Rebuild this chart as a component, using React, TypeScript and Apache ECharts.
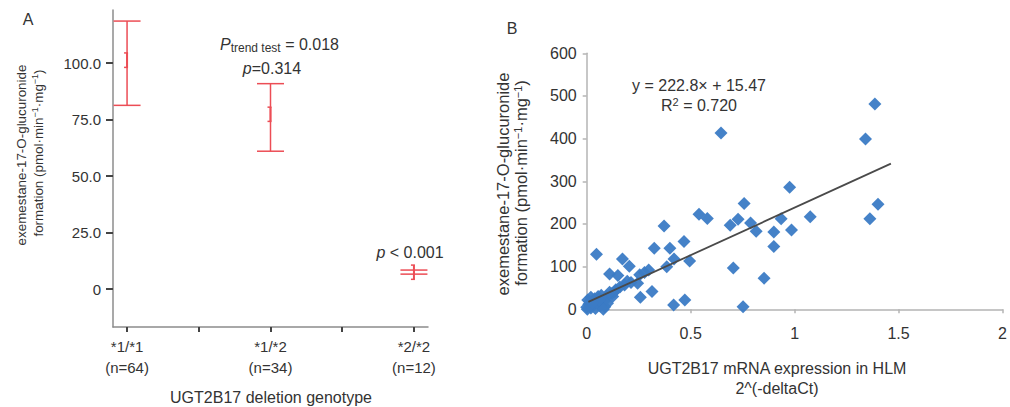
import React, { useEffect, useRef } from 'react';
import * as echarts from 'echarts';

// ---------- Panel A data ----------
const A_CATEGORIES = ['*1/*1', '*1/*2', '*2/*2'];
const A_COUNTS = ['(n=64)', '(n=34)', '(n=12)'];
const A_Y_TICKS = [0, 25, 50, 75, 100];
const A_X_TICKS = [0, 0.5, 1, 1.5, 2];
const A_OUTER_HIGH = [118.6, 90.9, 8.4];
const A_OUTER_LOW = [81.3, 61.0, 6.6];
const A_INNER_HIGH = [104.5, 80.5, 10.6];
const A_INNER_LOW = [98.1, 74.2, 4.3];

// ---------- Panel B data ----------
const B_EXPRESSION = [
  0.646, 1.386, 1.341, 0.976, 0.757, 1.401, 0.540, 0.580, 0.690, 0.728,
  0.788, 0.815, 0.935, 0.900, 0.900, 0.985, 1.075, 1.362, 0.372, 0.468,
  0.400, 0.325, 0.495, 0.420, 0.385, 0.705, 0.853, 0.047, 0.172, 0.205,
  0.110, 0.150, 0.255, 0.278, 0.298, 0.213, 0.245, 0.314, 0.258, 0.418,
  0.472, 0.752, 0.182, 0.160, 0.140, 0.122, 0.095, 0.087, 0.087, 0.100,
  0.005, 0.020, 0.038, 0.055, 0.070, 0.010, 0.030, 0.050, 0.000, 0.020,
  0.042, 0.065, 0.080, 0.003, 0.015, 0.125, 0.135, 0.195, 0.060, 0.028,
  0.110,
];
const B_FORMATION = [
  413, 481, 399, 286, 248, 246, 223, 213, 197, 211,
  202, 183, 212, 181, 147, 186, 217, 212, 195, 159,
  143, 143, 113, 118, 100, 97, 73, 129, 118, 101,
  83, 79, 81, 86, 92, 63, 61, 42, 28, 10,
  22, 6, 57, 52, 46, 37, 30, 20, 6, 14,
  22, 28, 25, 30, 33, 12, 10, 16, 5, 3,
  2, 8, 0, 0, 18, 30, 42, 66, 22, 15,
  40,
];
const B_X_LABELS = ['0', '0.5', '1', '1.5', '2'];
const B_SLOPE = 222.8;
const B_INTERCEPT = 15.47;
const B_FIT_START = 0.008;
const B_FIT_END = 1.463;

const FONT = 'Liberation Sans, Arial, Helvetica, sans-serif';
const TEXT = '#333333';
const RED = '#ec4d55';
const BLUE = '#3b7bc5';

function txt(x: number, y: number, text: string, fontSize: number, extra: any = {}, rich?: any, rotation = 0) {
  return {
    type: 'text',
    x,
    y,
    rotation,
    silent: true,
    style: {
      text,
      fontFamily: FONT,
      fontSize,
      fill: TEXT,
      align: 'center',
      textAlign: 'center',
      verticalAlign: 'middle',
      textVerticalAlign: 'middle',
      rich,
      ...extra,
    },
  };
}

export default function App() {
  const ref = useRef<HTMLDivElement>(null);

  useEffect(() => {
    document.body.style.margin = '0';
    if (!ref.current) return;
    const chart = echarts.init(ref.current, undefined, { renderer: 'svg' });

    const errorData = A_CATEGORIES.map((_, i) => [i, A_OUTER_LOW[i], A_OUTER_HIGH[i], A_INNER_LOW[i], A_INNER_HIGH[i]]);
    const scatterData = B_EXPRESSION.map((x, i) => [x, B_FORMATION[i]]);
    const fitData = [
      [B_FIT_START, B_SLOPE * B_FIT_START + B_INTERCEPT],
      [B_FIT_END, B_SLOPE * B_FIT_END + B_INTERCEPT],
    ];

    const supRich = {
      s: { fontSize: 9, lineHeight: 9, verticalAlign: 'top', fontFamily: FONT, fill: TEXT, color: TEXT },
    };

    const option: any = {
      animation: false,
      grid: [
        { left: 113, top: 10, width: 315, height: 317 },
        { left: 586.7, top: 53.3, width: 420, height: 256 },
      ],
      xAxis: [
        {
          type: 'value',
          gridIndex: 0,
          min: -0.098,
          max: 2.098,
          splitLine: { show: false },
          axisLine: { show: true, onZero: false, lineStyle: { color: '#8c8c8c', width: 1.5 } },
          axisTick: { show: true, customValues: A_X_TICKS, length: 5, lineStyle: { color: '#444', width: 2 } },
          axisLabel: {
            customValues: [0, 1, 2],
            formatter: (v: number) => A_CATEGORIES[Math.round(v)] + '\n' + A_COUNTS[Math.round(v)],
            fontSize: 15,
            fontFamily: FONT,
            color: TEXT,
            lineHeight: 21,
            margin: 9,
          },
        },
        {
          type: 'value',
          gridIndex: 1,
          min: 0,
          max: 2,
          interval: 0.5,
          splitLine: { show: false },
          axisLine: { show: true, onZero: false, lineStyle: { color: '#b4b4b4', width: 1.5 } },
          axisTick: { show: true, length: 4, lineStyle: { color: '#b4b4b4', width: 1.5 } },
          axisLabel: {
            formatter: (v: number) => B_X_LABELS[Math.round(v / 0.5)],
            fontSize: 16,
            fontFamily: FONT,
            color: TEXT,
            margin: 16,
          },
        },
      ],
      yAxis: [
        {
          type: 'value',
          gridIndex: 0,
          min: -16.8,
          max: 123.5,
          splitLine: { show: false },
          axisLine: { show: true, onZero: false, lineStyle: { color: '#8c8c8c', width: 1.5 } },
          axisTick: { show: true, customValues: A_Y_TICKS, length: 7, lineStyle: { color: '#444', width: 2 } },
          axisLabel: {
            customValues: A_Y_TICKS,
            formatter: (v: number) => (v === 0 ? '0' : v.toFixed(1)),
            fontSize: 15,
            fontFamily: FONT,
            color: TEXT,
            margin: 12,
          },
        },
        {
          type: 'value',
          gridIndex: 1,
          min: 0,
          max: 600,
          interval: 100,
          splitLine: { show: false },
          axisLine: { show: true, onZero: false, lineStyle: { color: '#b4b4b4', width: 1.5 } },
          axisTick: { show: true, length: 4, lineStyle: { color: '#b4b4b4', width: 1.5 } },
          axisLabel: { fontSize: 16, fontFamily: FONT, color: TEXT, margin: 10 },
        },
      ],
      series: [
        {
          type: 'custom',
          xAxisIndex: 0,
          yAxisIndex: 0,
          data: errorData,
          renderItem: (_params: any, api: any) => {
            const x = api.value(0);
            const oL = api.coord([x, api.value(1)]);
            const oH = api.coord([x, api.value(2)]);
            const iL = api.coord([x, api.value(3)]);
            const iH = api.coord([x, api.value(4)]);
            const cw = 13.5;
            const iw = 3;
            const st = { stroke: RED, lineWidth: 1.5 };
            const st2 = { stroke: RED, lineWidth: 2 };
            return {
              type: 'group',
              children: [
                { type: 'line', shape: { x1: oH[0], y1: oH[1], x2: oL[0], y2: oL[1] }, style: st },
                { type: 'line', shape: { x1: oH[0] - cw, y1: oH[1], x2: oH[0] + cw, y2: oH[1] }, style: st },
                { type: 'line', shape: { x1: oL[0] - cw, y1: oL[1], x2: oL[0] + cw, y2: oL[1] }, style: st },
                { type: 'line', shape: { x1: iH[0], y1: iH[1], x2: iL[0], y2: iL[1] }, style: st2 },
                { type: 'line', shape: { x1: iH[0] - iw, y1: iH[1], x2: iH[0] + 1, y2: iH[1] }, style: st },
                { type: 'line', shape: { x1: iL[0] - iw, y1: iL[1], x2: iL[0] + 1, y2: iL[1] }, style: st },
              ],
            };
          },
        },
        {
          type: 'scatter',
          xAxisIndex: 1,
          yAxisIndex: 1,
          symbol: 'diamond',
          symbolSize: 13,
          itemStyle: { color: BLUE, opacity: 0.95 },
          data: scatterData,
          z: 2,
        },
        {
          type: 'line',
          xAxisIndex: 1,
          yAxisIndex: 1,
          data: fitData,
          showSymbol: false,
          symbol: 'none',
          lineStyle: { color: '#4a4a4a', width: 1.8 },
          z: 3,
        },
      ],
      graphic: [
        txt(28, 19, 'A', 16),
        txt(512, 28, 'B', 16),
        txt(220, 44, '{i|P}{sub|trend test} = 0.018', 16, { align: 'left', textAlign: 'left' }, {
          i: { fontStyle: 'italic', fontSize: 16, lineHeight: 20, fontFamily: FONT, fill: TEXT, color: TEXT },
          sub: { fontSize: 12, lineHeight: 11, verticalAlign: 'bottom', fontFamily: FONT, fill: TEXT, color: TEXT },
        }),
        txt(272, 68, '{i|p}=0.314', 16, {}, {
          i: { fontStyle: 'italic', fontSize: 16, fontFamily: FONT, fill: TEXT, color: TEXT },
        }),
        txt(410, 252, '{i|p} < 0.001', 16, {}, {
          i: { fontStyle: 'italic', fontSize: 16, fontFamily: FONT, fill: TEXT, color: TEXT },
        }),
        txt(271, 397, 'UGT2B17 deletion genotype', 16),
        txt(21, 155, 'exemestane-17-O-glucuronide', 13.4, {}, undefined, Math.PI / 2),
        txt(38, 153, 'formation (pmol·min{s|−1}·mg{s|−1})', 13.4, { lineHeight: 15 }, supRich, Math.PI / 2),
        txt(503, 184, 'exemestane-17-O-glucuronide', 16.5, {}, undefined, Math.PI / 2),
        txt(521, 183, 'formation (pmol·min{s|−1}·mg{s|−1})', 16.5, { lineHeight: 18 }, {
          s: { fontSize: 11, lineHeight: 10, verticalAlign: 'top', fontFamily: FONT, fill: TEXT, color: TEXT },
        }, Math.PI / 2),
        txt(699, 85, 'y = 222.8× + 15.47', 16),
        txt(699, 105, 'R{s|2} = 0.720', 16, { lineHeight: 18 }, {
          s: { fontSize: 11, lineHeight: 10, verticalAlign: 'top', fontFamily: FONT, fill: TEXT, color: TEXT },
        }),
        txt(777, 368, 'UGT2B17 mRNA expression in HLM', 16),
        txt(777, 388, '2^(-deltaCt)', 16),
      ],
    };

    chart.setOption(option);
    return () => chart.dispose();
  }, []);

  return <div ref={ref} style={{ width: 1010, height: 407, background: '#fff' }} />;
}
